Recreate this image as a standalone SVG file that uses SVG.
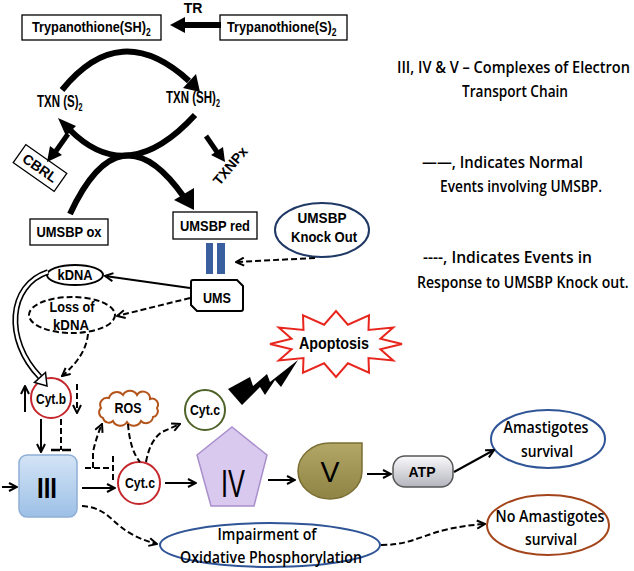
<svg xmlns="http://www.w3.org/2000/svg" width="634" height="571" viewBox="0 0 634 571">
<style>
.lb{font-family:"Liberation Sans",Arial,sans-serif;font-weight:bold;font-size:15px;fill:#000}
.cal{font-family:"Open Sans","Liberation Sans",sans-serif;font-weight:600;font-size:16px;fill:#000}
.sub{font-size:10px}
.box{fill:#fff;stroke:#000;stroke-width:1.3}
.ln{fill:none;stroke:#000;stroke-width:2}
.ds{fill:none;stroke:#000;stroke-width:2;stroke-dasharray:6 3}
.thick{fill:none;stroke:#000;stroke-width:6}
.blk{fill:#000}
.red{fill:#fff;stroke:#C4262B;stroke-width:2}
</style>
<defs>
<marker id="ch" viewBox="0 0 10 10" refX="9" refY="5" markerWidth="10" markerHeight="10" markerUnits="userSpaceOnUse" orient="auto">
<path d="M1,1 L9,5 L1,9" fill="none" stroke="#000" stroke-width="2"/>
</marker>
<linearGradient id="g3" x1="0" y1="0" x2="0" y2="1"><stop offset="0" stop-color="#D3E4F6"/><stop offset="1" stop-color="#9DC0E6"/></linearGradient>
<linearGradient id="gatp" x1="0" y1="0" x2="0" y2="1"><stop offset="0" stop-color="#FAFAFC"/><stop offset="1" stop-color="#B4B4BE"/></linearGradient>
<linearGradient id="gv" x1="0" y1="0" x2="0" y2="1"><stop offset="0" stop-color="#B3A766"/><stop offset="1" stop-color="#8F8345"/></linearGradient>
</defs>

<g id="trypSH"><rect class="box" x="22" y="15" width="139" height="25"/><text class="lb" transform="translate(32,32) scale(0.85,1)">Trypanothione(SH)<tspan class="sub" dy="4">2</tspan></text></g>
<g id="trypS"><rect class="box" x="220" y="15" width="127" height="25"/><text class="lb" transform="translate(227,32) scale(0.85,1)">Trypanothione(S)<tspan class="sub" dy="4">2</tspan></text></g>
<g id="tr"><text class="lb" x="193" y="13" text-anchor="middle" style="font-size:14px">TR</text></g>
<g id="txnS"><text class="lb" transform="translate(37,107) scale(0.72,1)" style="font-size:16px">TXN (S)<tspan class="sub" dy="4">2</tspan></text></g>
<g id="txnSH"><text class="lb" transform="translate(166,103) scale(0.72,1)" style="font-size:16px">TXN (SH)<tspan class="sub" dy="4">2</tspan></text></g>
<g id="cbrl" transform="translate(40,168) rotate(35)"><rect class="box" x="-25" y="-11" width="50" height="22"/><text class="lb" x="0" y="5" text-anchor="middle" style="font-size:14px">CBRL</text></g>
<g id="txnpx"><text class="lb" transform="translate(234,169) rotate(-50)" text-anchor="middle" style="font-size:14px">TXNPx</text></g>
<g id="umsbpox"><rect class="box" x="30" y="219" width="78" height="26"/><text class="lb" x="69" y="237" text-anchor="middle" textLength="65" lengthAdjust="spacingAndGlyphs">UMSBP ox</text></g>
<g id="umsbpred"><rect class="box" x="173" y="212" width="84" height="27"/><text class="lb" x="215" y="231" text-anchor="middle" textLength="70" lengthAdjust="spacingAndGlyphs">UMSBP red</text></g>
<g id="knockout"><ellipse cx="322" cy="230" rx="47" ry="27" fill="#fff" stroke="#1F3864" stroke-width="2"/><text class="lb" x="322" y="223" text-anchor="middle" textLength="49" lengthAdjust="spacingAndGlyphs">UMSBP</text><text class="lb" x="324" y="242" text-anchor="middle" textLength="66" lengthAdjust="spacingAndGlyphs">Knock Out</text></g>
<g id="bars"><rect x="206" y="243" width="7" height="31" fill="#3A5F9E"/><rect x="217" y="243" width="8" height="31" fill="#3A5F9E"/></g>
<g id="ums"><path d="M193 280 H237 L243 286 V309 Q243 311 241 311 H197 L191 305 V282 Q191 280 193 280 Z" fill="#fff" stroke="#000" stroke-width="2"/><text class="lb" x="217" y="303" text-anchor="middle" textLength="28" lengthAdjust="spacingAndGlyphs">UMS</text></g>
<g id="kdna"><ellipse cx="75" cy="275" rx="28" ry="10" fill="#fff" stroke="#000" stroke-width="2"/><text class="lb" x="75" y="280" text-anchor="middle" textLength="35" lengthAdjust="spacingAndGlyphs">kDNA</text></g>
<g id="losskdna"><ellipse cx="72" cy="315" rx="43" ry="18" fill="#fff" stroke="#000" stroke-width="2" stroke-dasharray="6 3"/><text class="lb" x="72" y="312" text-anchor="middle" textLength="45" lengthAdjust="spacingAndGlyphs">Loss of</text><text class="lb" x="71" y="330" text-anchor="middle" textLength="36" lengthAdjust="spacingAndGlyphs">kDNA</text></g>
<g id="cytb"><circle class="red" cx="51" cy="398" r="20"/><text class="lb" x="51" y="404" text-anchor="middle" textLength="30" lengthAdjust="spacingAndGlyphs">Cyt.b</text></g>
<g id="ros"><path d="M103 418 a6 6 0 0 1 -2 -10 a7 7 0 0 1 8 -10 a8 8 0 0 1 14 -3 a8 8 0 0 1 14 0 a7 7 0 0 1 13 4 a6 6 0 0 1 7 9 a6 6 0 0 1 -4 9 a7 7 0 0 1 -12 4 a8 8 0 0 1 -14 1 a8 8 0 0 1 -14 -1 a6 6 0 0 1 -10 -3 Z" fill="#fff" stroke="#B4541A" stroke-width="2"/><text class="lb" x="128" y="413" text-anchor="middle" textLength="27" lengthAdjust="spacingAndGlyphs">ROS</text></g>
<g id="cytcRed"><circle class="red" cx="139" cy="483" r="21"/><text class="lb" x="140" y="488" text-anchor="middle" textLength="30" lengthAdjust="spacingAndGlyphs">Cyt.c</text></g>
<g id="cytcGreen"><circle cx="205" cy="410" r="20" fill="#fff" stroke="#4F6228" stroke-width="2"/><text class="lb" x="205" y="415" text-anchor="middle" textLength="30" lengthAdjust="spacingAndGlyphs">Cyt.c</text></g>
<g id="apoptosis"><polygon points="402,344 380.4,349.2 393.2,360.5 368.5,358.1 369,372.6 347.9,363.3 336,377 324.1,363.3 303,372.6 303.5,358.1 278.8,360.5 291.6,349.2 270,344 291.6,338.8 278.8,327.5 303.5,329.9 303,315.4 324.1,324.7 336,311 347.9,324.7 369,315.4 368.5,329.9 393.2,327.5 380.4,338.8" fill="#fff" stroke="#E8261E" stroke-width="2"/><text class="lb" x="334" y="349" text-anchor="middle" textLength="70" lengthAdjust="spacingAndGlyphs" style="font-size:16px">Apoptosis</text></g>
<g id="complexIII"><rect x="19" y="455" width="58" height="62" rx="8" fill="url(#g3)" stroke="#8EAED6" stroke-width="1.5"/><text class="lb" x="47" y="498" text-anchor="middle" textLength="20" lengthAdjust="spacingAndGlyphs" style="font-size:30px">III</text></g>
<g id="complexIV"><polygon points="232,427 267,455 254,506 211,506 197,455" fill="#D9C9EF" stroke="#A98FCB" stroke-width="1.5"/><text x="233" y="497" text-anchor="middle" textLength="24" lengthAdjust="spacingAndGlyphs" style="font-family:'Liberation Sans',Arial,sans-serif;font-size:38px">IV</text></g>
<g id="complexV"><path d="M330 443 H362 V471 A32 28 0 1 1 330 443 Z" fill="url(#gv)" stroke="#7A6E33" stroke-width="1.5"/><text x="330" y="482" text-anchor="middle" textLength="19" lengthAdjust="spacingAndGlyphs" style="font-family:'Liberation Sans',Arial,sans-serif;font-size:30px">V</text></g>
<g id="atp"><rect x="393" y="456" width="60" height="31" rx="12" fill="url(#gatp)" stroke="#555" stroke-width="1.5"/><text class="lb" x="422" y="477" text-anchor="middle" textLength="27" lengthAdjust="spacingAndGlyphs" style="font-size:14px">ATP</text></g>
<g id="amaSurv"><ellipse cx="548" cy="439" rx="57" ry="29" fill="#fff" stroke="#2F5597" stroke-width="2"/><text class="cal" x="546" y="433" text-anchor="middle" textLength="85" lengthAdjust="spacingAndGlyphs" style="font-size:17px">Amastigotes</text><text class="cal" x="547" y="457" text-anchor="middle" textLength="52" lengthAdjust="spacingAndGlyphs" style="font-size:17px">survival</text></g>
<g id="noAmaSurv"><ellipse cx="548" cy="525" rx="61" ry="30" fill="#fff" stroke="#A3441A" stroke-width="2"/><text class="cal" x="550" y="522" text-anchor="middle" textLength="109" lengthAdjust="spacingAndGlyphs" style="font-size:17px">No Amastigotes</text><text class="cal" x="551" y="545" text-anchor="middle" textLength="52" lengthAdjust="spacingAndGlyphs" style="font-size:17px">survival</text></g>
<g id="impairment"><ellipse cx="270" cy="545" rx="110" ry="22" fill="#fff" stroke="#2F5597" stroke-width="2"/><text class="cal" x="267" y="540" text-anchor="middle" textLength="99" lengthAdjust="spacingAndGlyphs" style="font-size:17px">Impairment of</text><text class="cal" x="271" y="563" text-anchor="middle" textLength="182" lengthAdjust="spacingAndGlyphs" style="font-size:17px">Oxidative Phosphorylation</text></g>
<g id="legend">
<text class="cal" transform="translate(397,73) scale(0.85,1)" textLength="274" lengthAdjust="spacingAndGlyphs">III, IV &amp; V  – Complexes of Electron</text>
<text class="cal" x="462" y="97" textLength="106" lengthAdjust="spacingAndGlyphs">Transport Chain</text>
<text class="cal" x="422" y="168" textLength="161" lengthAdjust="spacingAndGlyphs">——, Indicates Normal</text>
<text class="cal" x="440" y="192" textLength="162" lengthAdjust="spacingAndGlyphs">Events involving UMSBP.</text>
<text class="cal" x="423" y="263" textLength="169" lengthAdjust="spacingAndGlyphs">----, Indicates Events in</text>
<text class="cal" transform="translate(417,288) scale(0.85,1)" textLength="249" lengthAdjust="spacingAndGlyphs">Response to UMSBP Knock out.</text>
</g>

<g id="connectors">
<line x1="221" y1="25" x2="183" y2="25" stroke="#000" stroke-width="6"/><polygon class="blk" points="170,25 185,17 185,33"/>
<path class="thick" d="M62 90 Q120 18 189 81" stroke-width="5"/><polygon class="blk" points="200,92 183,88 196,74"/>
<path class="thick" d="M195 115 Q128 188 70 130" stroke-width="5"/><polygon class="blk" points="58,118 76,126 66,136"/>
<path class="thick" d="M70 214 Q120 106 184 197" stroke-width="7"/><polygon class="blk" points="194,210 174,200 194,188"/>
<line x1="68" y1="134" x2="56" y2="151" stroke="#000" stroke-width="5"/><polygon class="blk" points="47,162 50,146 62,155"/>
<line x1="206" y1="136" x2="217" y2="152" stroke="#000" stroke-width="5"/><polygon class="blk" points="225,162 211,155 223,147"/>
<path class="ds" d="M315 258 L236 262" marker-end="url(#ch)"/>
<path class="ln" d="M190 288 L105 276" marker-end="url(#ch)"/>
<path class="ds" d="M190 298 L117 316" marker-end="url(#ch)"/>
<path class="ds" d="M88 334 Q86 356 62 376" marker-end="url(#ch)"/>
<path d="M48 272 C8 285 4 340 40 377" fill="none" stroke="#000" stroke-width="6"/>
<path d="M48 272 C8 285 4 340 40 377" fill="none" stroke="#fff" stroke-width="2.8"/>
<polygon points="47,386 34.5,382.5 45.5,372.5" fill="#fff" stroke="#000" stroke-width="1.5"/>
<path class="ln" d="M25 412 L25 386" marker-end="url(#ch)"/>
<path class="ds" d="M77 384 L77 413" marker-end="url(#ch)"/>
<path class="ln" d="M41 419 L41 452" marker-end="url(#ch)"/>
<path class="ds" d="M61 419 L61 450"/>
<line x1="51" y1="450" x2="72" y2="450" stroke="#000" stroke-width="2.5" stroke-dasharray="9 2"/>
<path class="ln" d="M2 487 L17 487" marker-end="url(#ch)"/>
<path class="ln" d="M82 488 L115 488" marker-end="url(#ch)"/>
<path class="ds" d="M85 468 L111 468"/>
<path class="ds" d="M113 456 L113 481"/>
<path class="ds" d="M93 468 L93 452 Q96 438 102 424" marker-end="url(#ch)"/>
<path class="ds" d="M128 424 Q130 450 140 462"/>
<path class="ds" d="M146 462 Q150 440 162 432 L180 424" marker-end="url(#ch)"/>
<polygon class="blk" points="228,389 250,377 253,386 267,374 270,382 298,360 281,387 275,380 265,395 260,387 242,405"/>
<path class="ln" d="M165 483 L196 483" marker-end="url(#ch)"/>
<path class="ln" d="M268 480 L295 480" marker-end="url(#ch)"/>
<path class="ln" d="M367 474 L391 474" marker-end="url(#ch)"/>
<path class="ln" d="M454 472 L494 450" marker-end="url(#ch)"/>
<path class="ds" d="M82 506 C115 508 110 532 157 544" marker-end="url(#ch)"/>
<path class="ds" d="M381 545 C420 545 425 528 485 524" marker-end="url(#ch)"/>
</g>
</svg>
